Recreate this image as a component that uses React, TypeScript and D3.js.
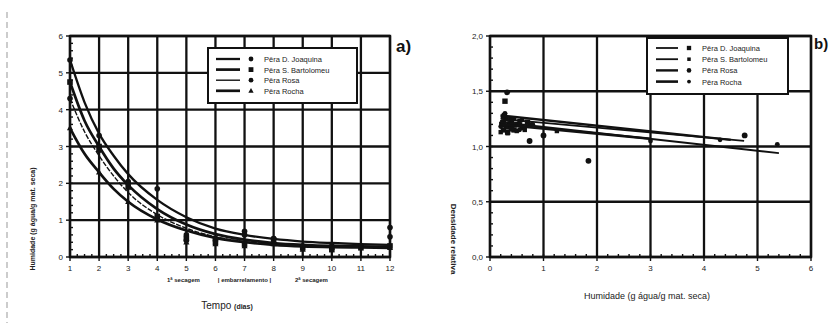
import React, { useEffect, useRef } from 'react';
import * as d3 from 'd3';

const pearNames = ['Pêra D. Joaquina', 'Pêra S. Bartolomeu', 'Pêra Rosa', 'Pêra Rocha'];

// a) drying curves - fitted lines
const fitDays = [1, 1.5, 2, 2.5, 3, 4, 5, 6, 7, 8, 9, 10, 11, 12];
const fitJoaquina = [5.35, 4.2, 3.35, 2.75, 2.25, 1.55, 1.08, 0.77, 0.6, 0.49, 0.42, 0.38, 0.35, 0.33];
const fitBartolomeu = [4.75, 3.7, 3.0, 2.4, 1.95, 1.3, 0.88, 0.62, 0.47, 0.38, 0.33, 0.3, 0.29, 0.28];
const fitRosa = [4.3, 3.4, 2.75, 2.2, 1.75, 1.15, 0.78, 0.55, 0.42, 0.35, 0.31, 0.29, 0.28, 0.27];
const fitRocha = [3.5, 2.8, 2.3, 1.85, 1.5, 1.02, 0.72, 0.52, 0.4, 0.33, 0.29, 0.27, 0.26, 0.25];

// a) measured points
const days = [1, 2, 3, 4, 5, 6, 7, 8, 9, 10, 11, 12];
const obsJoaquina = [5.35, 3.3, 2.05, 1.85, 0.6, 0.45, 0.7, 0.5, 0.3, 0.25, 0.3, 0.55];
const obsBartolomeu = [4.75, 3.0, 1.9, 1.1, 0.5, 0.4, 0.35, 0.45, 0.25, 0.2, 0.25, 0.3];
const obsRosa = [4.3, 2.9, 2.0, 1.05, 0.45, 0.5, 0.6, 0.5, 0.3, 0.3, 0.3, 0.8];
const obsRocha = [3.5, 2.3, 1.5, 1.0, 0.4, 0.35, 0.3, 0.35, 0.2, 0.25, 0.3, 0.25];

const xTicksA = [1, 2, 3, 4, 5, 6, 7, 8, 9, 10, 11, 12];
const yTicksA = [0, 1, 2, 3, 4, 5, 6];
const phaseLabels = ['1ª secagem', '| embarrelamento |', '2ª secagem'];
const phaseAt = [4.9, 7, 9.3];

// b) relative density vs moisture
const humJoaquina = [0.22, 0.25, 0.3, 0.28, 0.35, 0.4, 0.45, 0.5, 0.6, 0.7, 0.27, 0.33];
const densJoaquina = [1.2, 1.15, 1.25, 1.41, 1.18, 1.22, 1.15, 1.2, 1.17, 1.22, 1.28, 1.13];
const humBartolomeu = [0.2, 0.24, 0.3, 0.33, 0.38, 0.42, 0.5, 0.55, 0.65, 0.75, 1.25, 0.23];
const densBartolomeu = [1.13, 1.27, 1.18, 1.12, 1.25, 1.19, 1.14, 1.23, 1.15, 1.2, 1.14, 1.22];
const humRosa = [0.32, 0.25, 0.4, 0.74, 1.0, 1.84, 4.76, 0.55];
const densRosa = [1.49, 1.22, 1.16, 1.05, 1.1, 0.87, 1.1, 1.2];
const humRocha = [0.2, 0.28, 0.35, 0.45, 0.55, 0.6, 0.8, 5.37, 3.0, 4.3];
const densRocha = [1.18, 1.3, 1.21, 1.25, 1.15, 1.24, 1.2, 1.02, 1.05, 1.06];

// b) regression lines (start / end)
const regX = [[0.2, 4.75], [0.2, 5.4], [0.2, 4.5], [0.2, 3.0]];
const regY = [[1.25, 1.05], [1.22, 0.94], [1.28, 1.06], [1.2, 1.07]];

const xTicksB = [0, 1, 2, 3, 4, 5, 6];
const yTicksB = [0, 0.5, 1, 1.5, 2];

const FONT = '"Liberation Sans", Arial, sans-serif';

type Sel = d3.Selection<SVGGElement, unknown, null, undefined>;

function marker(g: Sel, shape: string, cx: number, cy: number, r: number) {
  if (shape === 'square') {
    g.append('rect').attr('x', cx - r).attr('y', cy - r).attr('width', r * 2).attr('height', r * 2).attr('fill', '#111');
  } else if (shape === 'triangle') {
    g.append('path')
      .attr('d', `M${cx},${cy - r * 1.2}L${cx + r * 1.1},${cy + r * 0.8}L${cx - r * 1.1},${cy + r * 0.8}Z`)
      .attr('fill', '#111');
  } else {
    g.append('circle').attr('cx', cx).attr('cy', cy).attr('r', r).attr('fill', '#111');
  }
}

function frame(g: Sel, x: d3.ScaleLinear<number, number>, y: d3.ScaleLinear<number, number>,
  xt: number[], yt: number[], xMinor: number[], yMinor: number[], yFmt: (v: number) => string) {
  const [x0, x1] = x.range();
  const [y0, y1] = y.range();
  const grid = g.append('g').attr('stroke', '#111').attr('stroke-width', 2.3);
  xt.forEach(t => grid.append('line').attr('x1', x(t)).attr('x2', x(t)).attr('y1', y0).attr('y2', y1));
  yt.forEach(t => grid.append('line').attr('x1', x0).attr('x2', x1).attr('y1', y(t)).attr('y2', y(t)));
  g.append('rect').attr('x', x0).attr('y', y1).attr('width', x1 - x0).attr('height', y0 - y1)
    .attr('fill', 'none').attr('stroke', '#111').attr('stroke-width', 2.4);
  const minor = g.append('g').attr('stroke', '#111').attr('stroke-width', 1.4);
  xMinor.forEach(t => minor.append('line').attr('x1', x(t)).attr('x2', x(t)).attr('y1', y0).attr('y2', y0 - 3));
  yMinor.forEach(t => minor.append('line').attr('x1', x0).attr('x2', x0 + 3).attr('y1', y(t)).attr('y2', y(t)));
  yt.forEach(t => minor.append('line').attr('x1', x0 - 4).attr('x2', x0).attr('y1', y(t)).attr('y2', y(t)));
  xt.forEach(t => minor.append('line').attr('x1', x(t)).attr('x2', x(t)).attr('y1', y0).attr('y2', y0 + 4));

  g.append('g').selectAll('text').data(xt).join('text')
    .attr('x', d => x(d)).attr('y', y0 + 14).attr('text-anchor', 'middle')
    .attr('font-size', 8).attr('fill', '#222').text(d => String(d));
  g.append('g').selectAll('text').data(yt).join('text')
    .attr('x', x0 - 7).attr('y', d => y(d) + 3).attr('text-anchor', 'end')
    .attr('font-size', 8).attr('fill', '#222').text(d => yFmt(d));
}

export default function App() {
  const ref = useRef<SVGSVGElement>(null);

  useEffect(() => {
    const svg = d3.select(ref.current);
    svg.selectAll('*').remove();
    const root = svg.append('g').attr('font-family', FONT) as unknown as Sel;

    // scan border on the left
    root.append('line').attr('x1', 7).attr('x2', 7).attr('y1', 12).attr('y2', 323)
      .attr('stroke', '#999').attr('stroke-width', 1).attr('stroke-dasharray', '6,4');

    // ---------- a) ----------
    const xa = d3.scaleLinear().domain([1, 12]).range([70, 390]);
    const ya = d3.scaleLinear().domain([0, 6]).range([257, 36]);
    const ga = root.append('g') as unknown as Sel;
    frame(ga, xa, ya, xTicksA, yTicksA, d3.range(1, 12, 0.25), d3.range(0, 6, 0.2), d => String(d));

    const fits = [fitJoaquina, fitBartolomeu, fitRosa, fitRocha];
    const widths = [2.3, 2.7, 1.4, 2.7];
    const line = d3.line<[number, number]>().x(d => xa(d[0])).y(d => ya(d[1])).curve(d3.curveMonotoneX);
    fits.forEach((f, i) => {
      ga.append('path').attr('d', line(fitDays.map((d, j) => [d, f[j]]))!)
        .attr('fill', 'none').attr('stroke', '#111').attr('stroke-width', widths[i])
        .attr('stroke-dasharray', i === 2 ? '5,1.5' : null);
    });
    const obs = [obsJoaquina, obsBartolomeu, obsRosa, obsRocha];
    const shapesA = ['circle', 'square', 'circle', 'triangle'];
    obs.forEach((o, i) => days.forEach((d, j) => marker(ga, shapesA[i], xa(d), ya(o[j]), 2.8)));

    phaseLabels.forEach((t, i) => {
      ga.append('text').attr('x', xa(phaseAt[i])).attr('y', 282).attr('text-anchor', 'middle')
        .attr('font-size', 6).attr('font-weight', 'bold').attr('fill', '#222').text(t);
    });
    const tl = ga.append('text').attr('x', 227).attr('y', 309).attr('text-anchor', 'middle').attr('fill', '#222');
    tl.append('tspan').attr('font-size', 10).text('Tempo ');
    tl.append('tspan').attr('font-size', 7).attr('font-weight', 'bold').text('(dias)');
    ga.append('text').attr('transform', 'translate(35,219) rotate(-90)').attr('text-anchor', 'middle')
      .attr('font-size', 7).attr('font-weight', 'bold').attr('fill', '#222')
      .text('Humidade (g água/g mat. seca)');
    ga.append('text').attr('x', 396).attr('y', 52).attr('font-size', 17).attr('font-weight', 'bold')
      .attr('fill', '#111').text('a)');

    // legend a
    const la = ga.append('g');
    la.append('rect').attr('x', 208).attr('y', 48).attr('width', 149).attr('height', 55)
      .attr('fill', '#fff').attr('stroke', '#111').attr('stroke-width', 2);
    pearNames.forEach((n, i) => {
      const yy = 59 + i * 10.6;
      la.append('line').attr('x1', 216).attr('x2', 240).attr('y1', yy).attr('y2', yy)
        .attr('stroke', '#111').attr('stroke-width', widths[i]);
      marker(la as unknown as Sel, shapesA[i], 251, yy, 2.4);
      la.append('text').attr('x', 264).attr('y', yy + 3).attr('font-size', 7.5).attr('fill', '#222').text(n);
    });

    // ---------- b) ----------
    const xb = d3.scaleLinear().domain([0, 6]).range([490, 811]);
    const yb = d3.scaleLinear().domain([0, 2]).range([257, 36]);
    const gb = root.append('g') as unknown as Sel;
    frame(gb, xb, yb, xTicksB, yTicksB, d3.range(0, 6, 0.2), d3.range(0, 2, 0.1), d => d3.format('.1f')(d).replace('.', ','));

    const hums = [humJoaquina, humBartolomeu, humRosa, humRocha];
    const dens = [densJoaquina, densBartolomeu, densRosa, densRocha];
    const shapesB = ['square', 'square', 'circle', 'circle'];
    const sizesB = [2.7, 2.2, 2.9, 2.4];
    hums.forEach((h, i) => h.forEach((v, j) => marker(gb, shapesB[i], xb(v), yb(dens[i][j]), sizesB[i])));
    const bw = [1.8, 1.8, 2.4, 2.6];
    regX.forEach((rx, i) => {
      gb.append('line').attr('x1', xb(rx[0])).attr('x2', xb(rx[1]))
        .attr('y1', yb(regY[i][0])).attr('y2', yb(regY[i][1]))
        .attr('stroke', '#111').attr('stroke-width', bw[i]);
    });

    gb.append('text').attr('x', 647).attr('y', 299).attr('text-anchor', 'middle')
      .attr('font-size', 9).attr('fill', '#222').text('Humidade (g água/g mat. seca)');
    gb.append('text').attr('transform', 'translate(451,239) rotate(90)').attr('text-anchor', 'middle')
      .attr('font-size', 8).attr('font-weight', 'bold').attr('fill', '#222').text('Densidade relativa');
    gb.append('text').attr('x', 814).attr('y', 49).attr('font-size', 15).attr('font-weight', 'bold')
      .attr('fill', '#111').text('b)');

    const lb = gb.append('g');
    lb.append('rect').attr('x', 647).attr('y', 38).attr('width', 141).attr('height', 56)
      .attr('fill', '#fff').attr('stroke', '#111').attr('stroke-width', 2);
    pearNames.forEach((n, i) => {
      const yy = 48 + i * 11.2;
      lb.append('line').attr('x1', 656).attr('x2', 678).attr('y1', yy).attr('y2', yy)
        .attr('stroke', '#111').attr('stroke-width', bw[i]);
      marker(lb as unknown as Sel, shapesB[i], 689, yy, sizesB[i] * 0.8);
      lb.append('text').attr('x', 702).attr('y', yy + 3).attr('font-size', 7.5).attr('fill', '#222').text(n);
    });
  }, []);

  return (
    <svg ref={ref} width={832} height={323}
      style={{ position: 'absolute', left: 0, top: 0, background: '#fff' }} />
  );
}
